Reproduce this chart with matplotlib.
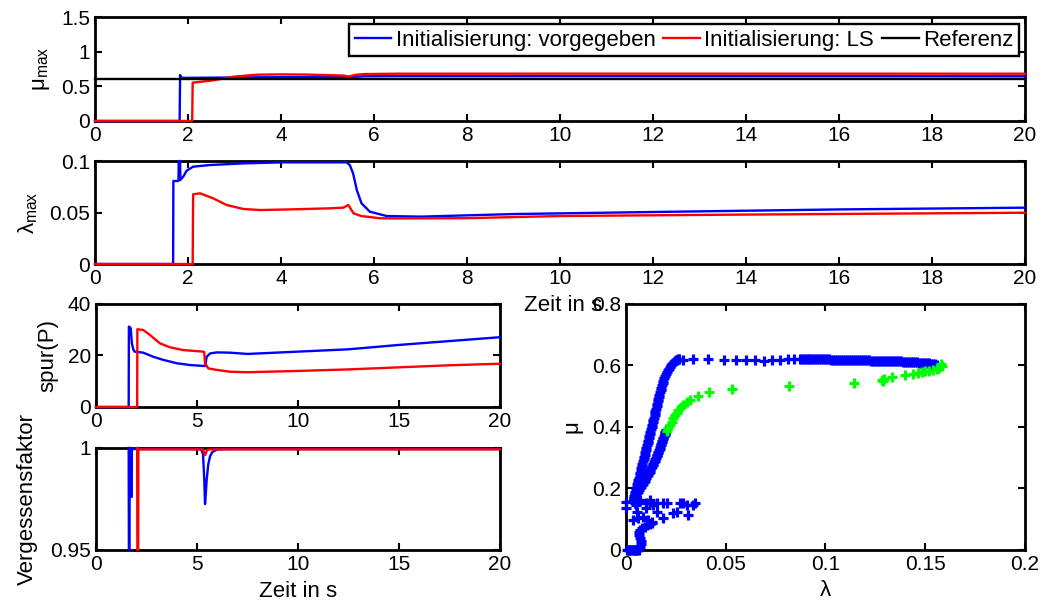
import matplotlib
matplotlib.use("Agg")
import matplotlib.pyplot as plt

plt.rcParams['font.family'] = ['Liberation Sans', 'DejaVu Sans']
plt.rcParams['mathtext.default'] = 'regular'

# mu_max over time
t_mu_vorg = [0, 1.82, 1.83, 1.85, 1.9, 2.5, 3.0, 4.0, 5.0, 5.4, 5.5, 5.8, 6.5, 10, 15, 20]
mu_vorg = [0, 0, 0.663, 0.63, 0.622, 0.625, 0.628, 0.632, 0.636, 0.637, 0.636, 0.645, 0.648, 0.647, 0.646, 0.645]
t_mu_ls = [0, 2.09, 2.1, 2.5, 3.0, 3.5, 4.0, 4.5, 5.0, 5.35, 5.45, 5.6, 5.8, 6.5, 10, 20]
mu_ls = [0, 0, 0.553, 0.583, 0.64, 0.668, 0.672, 0.67, 0.662, 0.655, 0.64, 0.665, 0.677, 0.682, 0.683, 0.682]
t_ref = [0, 20]
mu_ref = [0.6, 0.6]

# lambda_max over time
t_lam_vorg = [0, 1.68, 1.685, 1.795, 1.80, 1.83, 1.835, 1.9, 1.97, 2.11, 2.47, 3.19, 4.05, 5.41,
              5.48, 5.55, 5.63, 5.73, 5.91, 6.27, 7.0, 9.0, 12, 16, 20]
lam_vorg = [0, 0, 0.0806, 0.0806, 0.1, 0.1, 0.0816, 0.085, 0.0906, 0.0945, 0.0961, 0.0977, 0.0987, 0.0987,
            0.096, 0.088, 0.0718, 0.059, 0.0508, 0.0466, 0.046, 0.0485, 0.0505, 0.053, 0.0547]
t_lam_ls = [0, 2.1, 2.11, 2.26, 2.54, 2.83, 3.19, 3.55, 4.26, 5.0, 5.34, 5.45, 5.5, 5.56, 5.73, 5.84,
            6.13, 6.5, 8, 10, 14, 20]
lam_ls = [0, 0, 0.0677, 0.0686, 0.0638, 0.0573, 0.0534, 0.0524, 0.0531, 0.054, 0.0547, 0.0573, 0.0535, 0.0492,
          0.0465, 0.046, 0.0444, 0.0443, 0.0445, 0.0466, 0.048, 0.0498]

# spur(P)
t_sp_vorg = [0, 1.62, 1.63, 1.68, 1.72, 1.78, 1.84, 1.91, 2.34, 2.84, 3.33, 3.99, 4.65, 5.40, 5.44,
             5.48, 5.65, 5.98, 6.63, 7.5, 10, 12.5, 15, 17.5, 20]
sp_vorg = [0, 0, 31.2, 31.0, 30.5, 24.7, 22.5, 21.5, 21.1, 19.5, 18.3, 17.0, 16.3, 15.9, 17.5,
           19.5, 20.8, 21.2, 21.1, 20.6, 21.5, 22.4, 24.1, 25.6, 27.1]
t_sp_ls = [0, 2.04, 2.05, 2.34, 2.67, 3.17, 3.66, 4.32, 5.31, 5.36, 5.40, 5.56, 5.98, 6.63, 7.5,
           10, 12.5, 15, 17.5, 20]
sp_ls = [0, 0, 30.2, 29.9, 28.0, 24.7, 23.2, 22.1, 21.5, 21.3, 17.0, 15.0, 14.4, 13.7, 13.5,
         14.0, 14.6, 15.4, 16.2, 16.8]

# Vergessensfaktor
t_vf_vorg = [1.62, 1.63, 1.66, 1.67, 1.72, 1.73, 1.77, 1.78, 5.2, 5.3, 5.36, 5.40, 5.44, 5.48,
             5.56, 5.65, 5.76, 6.0, 6.5, 20]
vf_vorg = [1.0, 0.95, 0.95, 0.9995, 0.9995, 0.976, 0.976, 0.9995, 0.9995, 0.997, 0.985, 0.9725, 0.978, 0.9843,
           0.992, 0.996, 0.998, 0.9993, 0.9995, 0.9995]
t_vf_ls = [2.04, 2.05, 2.09, 2.1, 5.3, 5.4, 5.5, 5.6, 20]
vf_ls = [1.0, 0.95, 0.95, 0.9993, 0.9993, 0.9965, 0.999, 0.9993, 0.9993]

# mu over lambda, blue points
lam_b_start = [0.0003, 0.0009, 0.0015, 0.0021, 0.0027, 0.0033, 0.0039, 0.0045, 0.0051, 0.0057, 0.0063,
               0.0072, 0.0075, 0.0073, 0.0068, 0.0064, 0.0066, 0.0072, 0.0082, 0.0094, 0.0107, 0.0118, 0.0128]
mu_b_start = [0.0, 0.0, 0.0, 0.0, 0.0, 0.0, 0.0, 0.0, 0.0, 0.0, 0.001,
              0.009, 0.019, 0.029, 0.039, 0.048, 0.057, 0.065, 0.071, 0.076, 0.081, 0.086, 0.091]
lam_b_cluster = [0.0, 0.0, 0.0045, 0.0053, 0.007, 0.010, 0.012, 0.0137, 0.0154, 0.0187, 0.0204, 0.027,
                 0.0287, 0.0304, 0.0337, 0.0346, 0.0035, 0.006, 0.0087, 0.011, 0.013, 0.0187, 0.0237,
                 0.0254, 0.0312, 0.010, 0.0154, 0.005]
mu_b_cluster = [0.157, 0.135, 0.152, 0.124, 0.163, 0.152, 0.163, 0.146, 0.152, 0.152, 0.152, 0.154,
                0.152, 0.146, 0.146, 0.152, 0.098, 0.103, 0.108, 0.098, 0.087, 0.103, 0.119,
                0.124, 0.114, 0.135, 0.124, 0.146]
lam_b_rise = [0.0036, 0.0041, 0.0047, 0.0053, 0.0059, 0.0065, 0.0070, 0.0076, 0.0082, 0.0088, 0.0093,
              0.0099, 0.0105, 0.0111, 0.0117, 0.0122, 0.0128, 0.0134, 0.0140, 0.0145, 0.0151, 0.0157,
              0.0163, 0.0168, 0.0174, 0.0181, 0.0188, 0.0196, 0.0205, 0.0215, 0.0225, 0.0236, 0.0247,
              0.0258, 0.0268]
mu_b_rise = [0.160, 0.175, 0.190, 0.205, 0.220, 0.235, 0.250, 0.265, 0.280, 0.295, 0.310,
             0.325, 0.340, 0.355, 0.370, 0.385, 0.400, 0.415, 0.430, 0.445, 0.460, 0.475,
             0.490, 0.505, 0.520, 0.535, 0.550, 0.565, 0.578, 0.590, 0.600, 0.609, 0.615,
             0.619, 0.621]
lam_b_rise2 = [0.0038, 0.0044, 0.0050, 0.0056, 0.0062, 0.0068, 0.0073, 0.0079, 0.0085, 0.0091, 0.0096,
               0.0102, 0.0108, 0.0114, 0.0120, 0.0125, 0.0131, 0.0137, 0.0143, 0.0148, 0.0154, 0.0160,
               0.0166, 0.0171, 0.0178, 0.0185, 0.0192, 0.0201, 0.0210, 0.0220, 0.0231, 0.0242, 0.0253,
               0.0263]
mu_b_rise2 = [0.168, 0.183, 0.198, 0.213, 0.228, 0.243, 0.258, 0.273, 0.288, 0.303, 0.318,
              0.333, 0.348, 0.363, 0.378, 0.393, 0.408, 0.423, 0.438, 0.453, 0.468, 0.483,
              0.498, 0.513, 0.528, 0.543, 0.558, 0.572, 0.584, 0.595, 0.605, 0.612, 0.617,
              0.620]
lam_b_top = [0.0285, 0.0335, 0.0412, 0.049, 0.0552, 0.0603, 0.0648, 0.069, 0.0732, 0.0772, 0.081, 0.0843]
mu_b_top = [0.618, 0.620, 0.620, 0.618, 0.617, 0.617, 0.617, 0.616, 0.618, 0.618, 0.620, 0.620]
lam_b_band = [0.087, 0.088, 0.089, 0.090, 0.091, 0.092, 0.093, 0.094, 0.095, 0.096, 0.097, 0.098,
              0.099, 0.100, 0.101, 0.102, 0.103, 0.104, 0.105, 0.106, 0.107, 0.108, 0.109, 0.110,
              0.111, 0.112, 0.113, 0.114, 0.115, 0.116, 0.117, 0.118, 0.119, 0.120, 0.121, 0.122,
              0.123, 0.124, 0.125, 0.126, 0.127, 0.128, 0.129, 0.130, 0.131, 0.132, 0.133, 0.134,
              0.135, 0.136, 0.137, 0.138, 0.139, 0.140, 0.141, 0.142, 0.143, 0.144, 0.145, 0.146,
              0.147, 0.148, 0.149, 0.150, 0.151, 0.152, 0.153, 0.154, 0.155, 0.156]
mu_b_band = [0.622, 0.621, 0.621, 0.621, 0.621, 0.621, 0.621, 0.621, 0.620, 0.620, 0.620, 0.620,
             0.620, 0.620, 0.620, 0.620, 0.619, 0.619, 0.619, 0.619, 0.619, 0.619, 0.619, 0.619,
             0.618, 0.618, 0.618, 0.618, 0.618, 0.618, 0.617, 0.617, 0.617, 0.617, 0.617, 0.617,
             0.616, 0.616, 0.616, 0.616, 0.615, 0.615, 0.615, 0.615, 0.614, 0.614, 0.614, 0.614,
             0.613, 0.613, 0.613, 0.613, 0.612, 0.612, 0.612, 0.612, 0.611, 0.611, 0.610, 0.610,
             0.609, 0.609, 0.608, 0.608, 0.607, 0.607, 0.606, 0.605, 0.604, 0.602]
lam_b_fall = [0.0040, 0.0044, 0.0047, 0.0053, 0.0058, 0.0063, 0.0068, 0.0073, 0.0078, 0.0083, 0.0088,
              0.0093, 0.0097, 0.0102, 0.0106, 0.0110, 0.0114, 0.0118, 0.0122, 0.0126, 0.0130, 0.0134,
              0.0137, 0.0141, 0.0144, 0.0148, 0.0151, 0.0154, 0.0157, 0.0160, 0.0163, 0.0166, 0.0169,
              0.0172, 0.0174, 0.0177, 0.0180, 0.0183, 0.0185, 0.0188, 0.0191, 0.0194, 0.0196, 0.0198,
              0.0200, 0.0203]
mu_b_fall = [0.170, 0.175, 0.180, 0.185, 0.190, 0.195, 0.200, 0.205, 0.210, 0.215, 0.220,
             0.225, 0.230, 0.235, 0.240, 0.245, 0.250, 0.255, 0.260, 0.265, 0.270, 0.275,
             0.280, 0.285, 0.290, 0.295, 0.300, 0.305, 0.310, 0.315, 0.320, 0.325, 0.330,
             0.335, 0.340, 0.345, 0.350, 0.355, 0.360, 0.365, 0.370, 0.375, 0.380, 0.383,
             0.386, 0.390]

# mu over lambda, green points
lam_green = [0.0205, 0.0212, 0.0220, 0.0229, 0.0237, 0.0246, 0.0254, 0.0262, 0.0275, 0.0287, 0.0304,
             0.0321, 0.0362, 0.0418, 0.053, 0.0819, 0.1145, 0.1282, 0.1287, 0.1292, 0.1332, 0.1398,
             0.144, 0.1465, 0.1482, 0.1499, 0.152, 0.154, 0.1557, 0.157, 0.1582, 0.1579]
mu_green = [0.386, 0.396, 0.406, 0.417, 0.428, 0.439, 0.447, 0.455, 0.464, 0.472, 0.480,
            0.488, 0.501, 0.515, 0.525, 0.534, 0.542, 0.553, 0.548, 0.556, 0.5615, 0.569,
            0.5724, 0.5767, 0.579, 0.581, 0.583, 0.585, 0.5886, 0.593, 0.598, 0.605]

# ticks
t_ticks_top = [0, 2, 4, 6, 8, 10, 12, 14, 16, 18, 20]
t_ticks_bottom = [0, 5, 10, 15, 20]
mu_ticks = [0, 0.5, 1, 1.5]
mu_tick_labels = ['0', '0.5', '1', '1.5']
lam_ticks = [0, 0.05, 0.1]
lam_tick_labels = ['0', '0.05', '0.1']
sp_ticks = [0, 20, 40]
vf_ticks = [0.95, 1]
vf_tick_labels = ['0.95', '1']
sc_x_ticks = [0, 0.05, 0.1, 0.15, 0.2]
sc_x_labels = ['0', '0.05', '0.1', '0.15', '0.2']
sc_y_ticks = [0, 0.2, 0.4, 0.6, 0.8]
sc_y_labels = ['0', '0.2', '0.4', '0.6', '0.8']

BLUE = (0, 0, 1)
RED = (1, 0, 0)
GREEN = (0, 1, 0)
LW = 1.7


def style(ax, xticks, xlabels, yticks, ylabels, xlim, ylim):
    ax.set_xlim(*xlim)
    ax.set_ylim(*ylim)
    ax.set_xticks(xticks)
    ax.set_xticklabels(xlabels)
    ax.set_yticks(yticks)
    ax.set_yticklabels(ylabels)
    ax.tick_params(direction='in', top=True, right=True, length=5, width=1.5,
                   labelsize=15, pad=3.5)
    for s in ax.spines.values():
        s.set_linewidth(2.0)


def curve(ax, t, y, color, label=None):
    ax.plot(t, y, color=color, lw=LW, zorder=3, clip_on=False, label=label)


fig = plt.figure(figsize=(10.51, 6.01), dpi=100)

# top: mu_max
ax1 = fig.add_axes([0.0904, 0.7987, 0.8849, 0.1730])
curve(ax1, t_mu_vorg, mu_vorg, BLUE, 'Initialisierung: vorgegeben')
curve(ax1, t_mu_ls, mu_ls, RED, 'Initialisierung: LS')
curve(ax1, t_ref, mu_ref, 'black', 'Referenz')
style(ax1, t_ticks_top, [str(v) for v in t_ticks_top], mu_ticks, mu_tick_labels, (0, 20), (0, 1.5))
ax1.set_ylabel(r'$\mu_{max}$', fontsize=16)
ax1.yaxis.set_label_coords(-0.046, 0.5)
leg = ax1.legend(loc='upper right', bbox_to_anchor=(0.9935, 0.933), borderaxespad=0, ncol=3,
                 fontsize=16, handlelength=1.65, handletextpad=0.2, columnspacing=0.35,
                 borderpad=0.25, fancybox=False, framealpha=1, edgecolor='black')
leg.get_frame().set_linewidth(1.7)

# lambda_max
ax2 = fig.add_axes([0.0904, 0.5607, 0.8849, 0.1714])
curve(ax2, t_lam_vorg, lam_vorg, BLUE)
curve(ax2, t_lam_ls, lam_ls, RED)
style(ax2, t_ticks_top, [str(v) for v in t_ticks_top], lam_ticks, lam_tick_labels, (0, 20), (0, 0.1))
ax2.set_ylabel(r'$\lambda_{max}$', fontsize=16)
ax2.yaxis.set_label_coords(-0.059, 0.5)
ax2.set_xlabel('Zeit in s', fontsize=16)
ax2.xaxis.set_label_coords(0.503, -0.30)

# spur(P)
ax3 = fig.add_axes([0.0913, 0.3228, 0.3844, 0.1714])
curve(ax3, t_sp_vorg, sp_vorg, BLUE)
curve(ax3, t_sp_ls, sp_ls, RED)
style(ax3, t_ticks_bottom, [str(v) for v in t_ticks_bottom], sp_ticks, [str(v) for v in sp_ticks],
      (0, 20), (0, 40))
ax3.set_ylabel('spur(P)', fontsize=16)
ax3.yaxis.set_label_coords(-0.094, 0.5)

# Vergessensfaktor
ax4 = fig.add_axes([0.0913, 0.0849, 0.3844, 0.1697])
curve(ax4, t_vf_vorg, vf_vorg, BLUE)
curve(ax4, t_vf_ls, vf_ls, RED)
style(ax4, t_ticks_bottom, [str(v) for v in t_ticks_bottom], vf_ticks, vf_tick_labels, (0, 20), (0.95, 1))
ax4.set_ylabel('Vergessensfaktor', fontsize=16)
ax4.yaxis.set_label_coords(-0.1436, 0.5)
ax4.set_xlabel('Zeit in s', fontsize=16)
ax4.xaxis.set_label_coords(0.5, -0.30)

# mu over lambda
ax5 = fig.add_axes([0.5956, 0.0849, 0.3796, 0.4093])
blue_lam = lam_b_start + lam_b_cluster + lam_b_rise + lam_b_rise2 + lam_b_top + lam_b_band + lam_b_fall
blue_mu = mu_b_start + mu_b_cluster + mu_b_rise + mu_b_rise2 + mu_b_top + mu_b_band + mu_b_fall
ax5.plot(blue_lam, blue_mu, ls='none', marker='+', ms=7, mew=2.3, color=BLUE, zorder=3, clip_on=False)
ax5.plot(lam_green, mu_green, ls='none', marker='+', ms=7, mew=2.3, color=GREEN, zorder=3, clip_on=False)
style(ax5, sc_x_ticks, sc_x_labels, sc_y_ticks, sc_y_labels, (0, 0.2), (0, 0.8))
ax5.set_ylabel('μ', fontsize=16)
ax5.yaxis.set_label_coords(-0.108, 0.5)
ax5.set_xlabel('λ', fontsize=16)
ax5.xaxis.set_label_coords(0.5, -0.122)

fig.savefig('out.png', dpi=100)
